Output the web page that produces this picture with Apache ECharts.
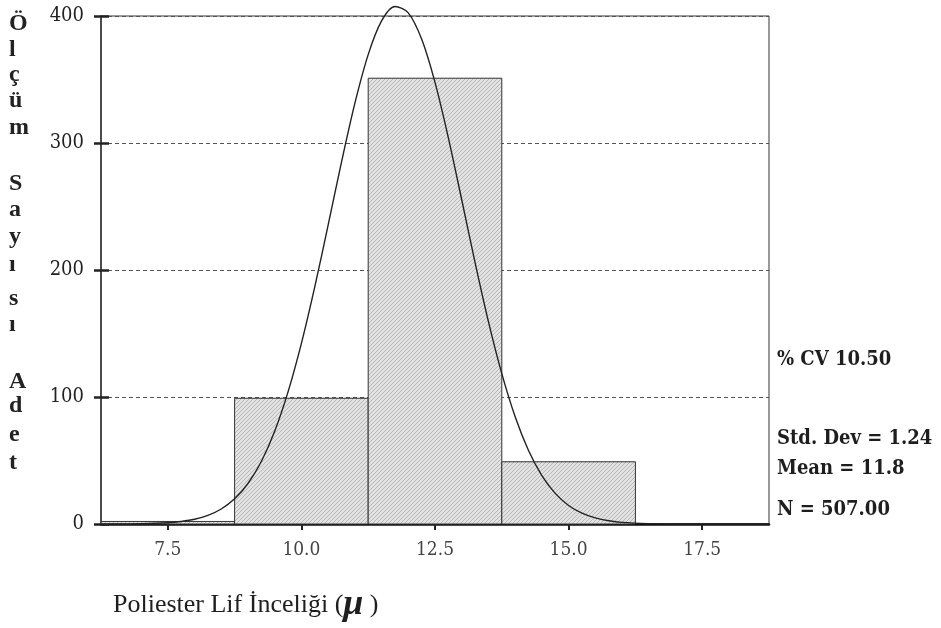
<!DOCTYPE html>
<html>
<head>
<meta charset="utf-8">
<style>
  html, body { margin: 0; padding: 0; background: #fff; }
  #chart { width: 941px; height: 628px; }
</style>
<script src="https://cdn.jsdelivr.net/npm/echarts@6/dist/echarts.min.js"></script>
</head>
<body>
<div id="chart"></div>
<script>
// Histogram bins (centres, width 2.5) and measured counts
const binCenters = [7.5, 10.0, 12.5, 15.0];
const binWidth = 2.5;
const binCounts = [2, 99, 351, 49];

// Fitted normal curve (mean 11.8, sd 1.24, N 507), sampled points
const curveX = [6.25, 6.5, 7.0, 7.5, 7.75, 8.0, 8.25, 8.5, 8.75, 9.0, 9.25, 9.5, 9.75,
  10.0, 10.25, 10.5, 10.75, 11.0, 11.25, 11.5, 11.75, 12.0, 12.25, 12.5, 12.75,
  13.0, 13.25, 13.5, 13.75, 14.0, 14.25, 14.5, 14.75, 15.0, 15.25, 15.5, 15.75,
  16.0, 16.5, 17.0, 18.0, 18.75];
const curveY = [0, 0, 0.2, 1.0, 2.0, 3.7, 6.8, 11.8, 19.8, 31.9, 49.2, 73.0, 104.0,
  142.2, 186.7, 235.3, 284.9, 331.2, 369.6, 396.1, 407.5, 402.5, 381.8, 347.7, 304.1,
  255.3, 205.8, 159.3, 118.4, 84.5, 57.9, 38.1, 24.1, 14.6, 8.5, 4.8, 2.6,
  1.3, 0.3, 0, 0, 0];

// Axis tick labels
const xTicks = [7.5, 10.0, 12.5, 15.0, 17.5];
const yTicks = [0, 100, 200, 300, 400];

// Summary statistics shown at the right
const statLines = ['% CV 10.50', 'Std. Dev = 1.24', 'Mean = 11.8', 'N = 507.00'];

// Vertical y-axis title, one letter per row
const yTitleLetters = ['Ö', 'l', 'ç', 'ü', 'm', 'S', 'a', 'y', 'ı', 's', 'ı', 'A', 'd', 'e', 't'];
const yTitleRows = [25, 51, 76, 102, 129, 185, 211, 238, 266, 300, 326, 383, 407, 436, 464];

const xTitle = 'Poliester Lif İnceliği (';

const numFont = "'DejaVu Serif Condensed', 'Liberation Serif', serif";
const textFont = "'Liberation Serif', 'DejaVu Serif', serif";

// Diagonal hatch used to fill the bars
function makeHatch() {
  const c = document.createElement('canvas');
  c.width = 4; c.height = 4;
  const g = c.getContext('2d');
  g.fillStyle = '#e2e2e2';
  g.fillRect(0, 0, 4, 4);
  g.strokeStyle = '#b8b8b8';
  g.lineWidth = 1;
  g.beginPath();
  g.moveTo(0, 4); g.lineTo(4, 0);
  g.moveTo(-1, 1); g.lineTo(1, -1);
  g.moveTo(3, 5); g.lineTo(5, 3);
  g.stroke();
  return c;
}
const hatch = { image: makeHatch(), repeat: 'repeat' };

const chart = echarts.init(document.getElementById('chart'), null, { renderer: 'canvas' });

const graphic = [];
yTitleLetters.forEach((ch, i) => {
  graphic.push({
    type: 'text', left: 9, top: yTitleRows[i] - 13,
    style: { text: ch, font: 'bold 24px ' + textFont, fill: '#222' }
  });
});
const statTops = [362, 441, 471, 512];
statLines.forEach((t, i) => {
  graphic.push({
    type: 'text', left: 777, top: statTops[i] - 12,
    style: { text: t, font: 'bold 20px ' + numFont, fill: '#1e1e1e' }
  });
});
graphic.push({
  type: 'text', left: 113, top: 587,
  style: {
    text: '{a|' + xTitle + '}{m|μ}{a| )}',
    rich: {
      a: { font: '26px ' + textFont, fill: '#1e1e1e' },
      m: { font: 'italic bold 36px ' + textFont, fill: '#1e1e1e' }
    }
  }
});

const option = {
  animation: false,
  backgroundColor: '#fff',
  grid: { left: 101, right: 172, top: 16, bottom: 104, show: true, borderColor: '#333', borderWidth: 1 },
  graphic: graphic,
  xAxis: {
    type: 'value', min: 6.25, max: 18.75,
    axisLine: { show: true, lineStyle: { color: '#111', width: 2.5 } },
    axisTick: { show: true, customValues: xTicks, length: 6, lineStyle: { color: '#222', width: 2 } },
    axisLabel: {
      customValues: xTicks, margin: 17,
      formatter: v => v.toFixed(1),
      fontFamily: numFont, fontSize: 19, color: '#444'
    },
    splitLine: { show: false }
  },
  yAxis: [{
    type: 'value', min: 0, max: 400, interval: 100,
    axisLine: { show: true, lineStyle: { color: '#333', width: 1.5 } },
    axisTick: { show: true, inside: true, length: 8, lineStyle: { color: '#222', width: 2.5 } },
    axisLabel: { margin: 17, fontFamily: numFont, fontSize: 20, color: '#222' },
    splitLine: { show: true, lineStyle: { color: '#555', width: 1.2, type: [4, 3] } }
  }, {
    type: 'value', min: 0, max: 400, interval: 100, position: 'left',
    axisLine: { show: false },
    axisTick: { show: true, inside: false, length: 7, lineStyle: { color: '#222', width: 2.5 } },
    axisLabel: { show: false },
    splitLine: { show: false }
  }],
  series: [{
    type: 'custom',
    data: binCenters.map((c, i) => [c, binCounts[i]]),
    renderItem: (params, api) => {
      const c = api.value(0), n = api.value(1);
      const p0 = api.coord([c - binWidth / 2, n]);
      const p1 = api.coord([c + binWidth / 2, 0]);
      return {
        type: 'rect',
        shape: { x: p0[0], y: p0[1], width: p1[0] - p0[0], height: p1[1] - p0[1] },
        style: { fill: hatch, stroke: '#333', lineWidth: 1 }
      };
    },
    z: 2
  }, {
    type: 'line',
    data: curveX.map((x, i) => [x, curveY[i]]),
    smooth: 0.3,
    showSymbol: false,
    clip: false,
    lineStyle: { color: '#222', width: 1.4 },
    z: 3
  }]
};
chart.setOption(option);
</script>
</body>
</html>
